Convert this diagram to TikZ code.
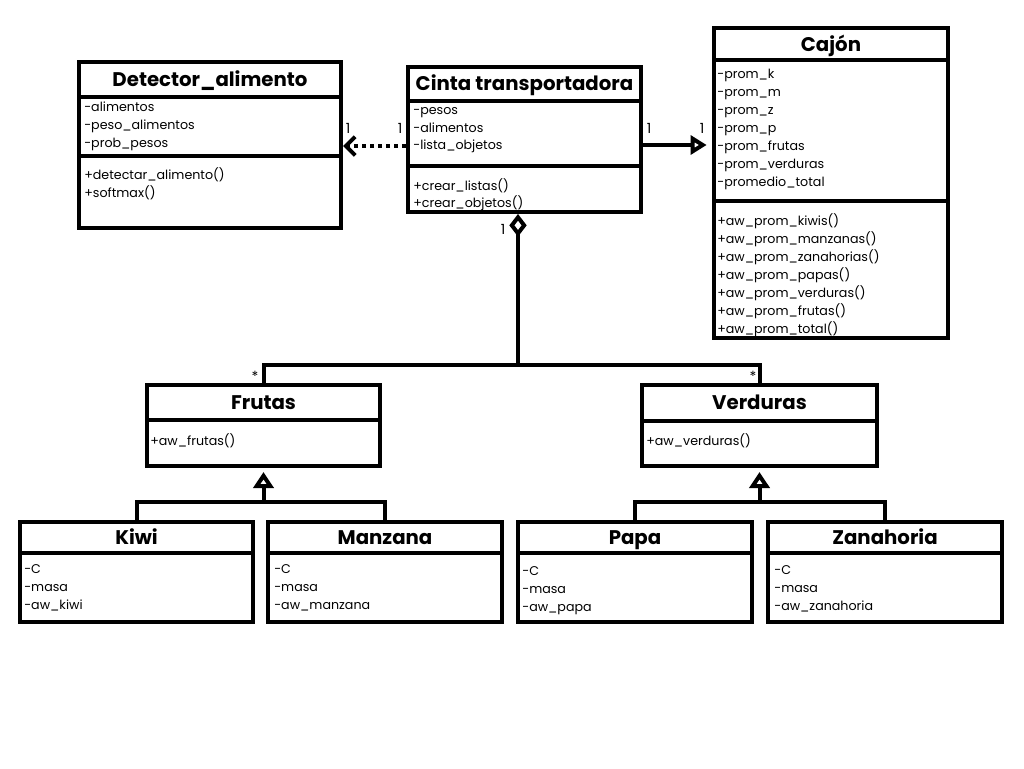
\documentclass[tikz,border=0pt]{standalone}
\usepackage{fontspec}
\setmainfont{Poppins}
\usetikzlibrary{arrows.meta,fit}

\tikzset{
  classbox/.style={draw, line width=3pt, inner sep=0pt},
  sep/.style={line width=2.6pt},
  ttl/.style={font=\fontsize{14.8}{17}\selectfont\bfseries, inner sep=0pt, anchor=base},
  members/.style={font=\fontsize{9.5}{13.5}\selectfont, align=left, anchor=north west,
                  inner sep=0pt, execute at begin node=\strut},
  mult/.style={font=\fontsize{10.5}{11}\selectfont, inner sep=0pt},
  link/.style={line width=3pt},
  dep/.style={line width=3pt, dash pattern=on 3pt off 3pt,
              -{Straight Barb[length=7pt,width=14pt]}},
  assoc/.style={line width=3pt, -{Triangle[open,length=12pt,width=14pt,fill=white]}, shorten >=4pt},
  aggr/.style={line width=3pt, {Diamond[open,length=17pt,width=13pt,fill=white]}-},
  inherit/.style={line width=3pt, -{Triangle[open,length=12pt,width=15pt,fill=white]}, shorten >=3pt},
}

\begin{document}
\begin{tikzpicture}[x=0.75pt,y=-0.75pt]
\fill[white] (0,0) rectangle (1024,768);
\useasboundingbox (0,0) rectangle (1024,768);

% ---- Detector_alimento ----
\node[classbox, fit={(79,62) (341,228)}] (det) {};
\draw[sep] (det.west |- 0,97) -- (det.east |- 0,97);
\draw[link] (det.west |- 0,156) -- (det.east |- 0,156);
\node[ttl] (det-t) at (210,86.5) {Detector\_alimento};
\node[members] (det-a) at (84,102) {-alimentos\\-peso\_alimentos\\-prob\_pesos};
\node[members] (det-m) at (84,167) {+detectar\_alimento()\\+softmax()};

% ---- Cinta transportadora ----
\node[classbox, fit={(408,67) (641,212)}] (cinta) {};
\draw[sep] (cinta.west |- 0,101) -- (cinta.east |- 0,101);
\draw[link] (cinta.west |- 0,166) -- (cinta.east |- 0,166);
\node[ttl] (cinta-t) at (524.5,90.5) {Cinta transportadora};
\node[members, font=\fontsize{9.5}{13.1}\selectfont] (cinta-a) at (413,107.5) {-pesos\\-alimentos\\-lista\_objetos};
\node[members, font=\fontsize{9.5}{13.1}\selectfont] (cinta-m) at (413,178) {+crear\_listas()\\+crear\_objetos()};

% ---- Cajón ----
\node[classbox, fit={(714,28) (948,338)}] (caj) {};
\draw[sep] (caj.west |- 0,60) -- (caj.east |- 0,60);
\draw[link] (caj.west |- 0,201) -- (caj.east |- 0,201);
\node[ttl] (caj-t) at (831,51) {Cajón};
\node[members] (caj-a) at (717,69) {-prom\_k\\-prom\_m\\-prom\_z\\-prom\_p\\-prom\_frutas\\-prom\_verduras\\-promedio\_total};
\node[members] (caj-m) at (717,213) {+aw\_prom\_kiwis()\\+aw\_prom\_manzanas()\\+aw\_prom\_zanahorias()\\+aw\_prom\_papas()\\+aw\_prom\_verduras()\\+aw\_prom\_frutas()\\+aw\_prom\_total()};

% ---- Frutas / Verduras ----
\node[classbox, fit={(147,385) (380,466)}] (frut) {};
\draw[sep] (frut.west |- 0,420) -- (frut.east |- 0,420);
\node[ttl] (frut-t) at (263.5,409.5) {Frutas};
\node[members] (frut-m) at (150,433) {+aw\_frutas()};

\node[classbox, fit={(642,385) (877,466)}] (verd) {};
\draw[sep] (verd.west |- 0,421) -- (verd.east |- 0,421);
\node[ttl] (verd-t) at (759.5,409.5) {Verduras};
\node[members] (verd-m) at (646,433) {+aw\_verduras()};

% ---- Kiwi, Manzana, Papa, Zanahoria ----
\node[classbox, fit={(20,522) (253,622)}] (kiwi) {};
\draw[sep] (kiwi.west |- 0,553) -- (kiwi.east |- 0,553);
\node[ttl] (kiwi-t) at (136.5,544.5) {Kiwi};
\node[members] (kiwi-a) at (24,564) {-C\\-masa\\-aw\_kiwi};

\node[classbox, fit={(268,522) (502,622)}] (manz) {};
\draw[sep] (manz.west |- 0,553) -- (manz.east |- 0,553);
\node[ttl] (manz-t) at (385,544.5) {Manzana};
\node[members] (manz-a) at (274,564) {-C\\-masa\\-aw\_manzana};

\node[classbox, fit={(518,522) (752,622)}] (papa) {};
\draw[sep] (papa.west |- 0,553) -- (papa.east |- 0,553);
\node[ttl] (papa-t) at (635,544.5) {Papa};
\node[members] (papa-a) at (522,566) {-C\\-masa\\-aw\_papa};

\node[classbox, fit={(768,522) (1002,622)}] (zana) {};
\draw[sep] (zana.west |- 0,553) -- (zana.east |- 0,553);
\node[ttl] (zana-t) at (885,544.5) {Zanahoria};
\node[members] (zana-a) at (774,565) {-C\\-masa\\-aw\_zanahoria};

% ---- relations ----
\draw[dep] (cinta.west |- 0,146) -- (det.east |- 0,146);
\node[mult] (m1) at (348,128) {1};
\node[mult] (m2) at (400,128) {1};

\draw[assoc] (cinta.east |- 0,145) -- (caj.west |- 0,145);
\node[mult] (m3) at (649,128) {1};
\node[mult] (m4) at (702,128) {1};

\coordinate (agg) at (518,365);
\draw[aggr] (cinta.south -| agg) -- (agg);
\draw[link] (frut.north) |- (agg) -| (verd.north);
\node[mult] (m5) at (503,229) {1};
\node[mult] (s1) at (255,376) {*};
\node[mult] (s2) at (753,376) {*};

\coordinate (fbus) at (frut.south |- 0,502);
\draw[link] (kiwi.north) |- (fbus) -| (manz.north);
\draw[inherit] (fbus) -- (frut.south);

\coordinate (vbus) at (verd.south |- 0,502);
\draw[link] (papa.north) |- (vbus) -| (zana.north);
\draw[inherit] (vbus) -- (verd.south);
\end{tikzpicture}
\end{document}
